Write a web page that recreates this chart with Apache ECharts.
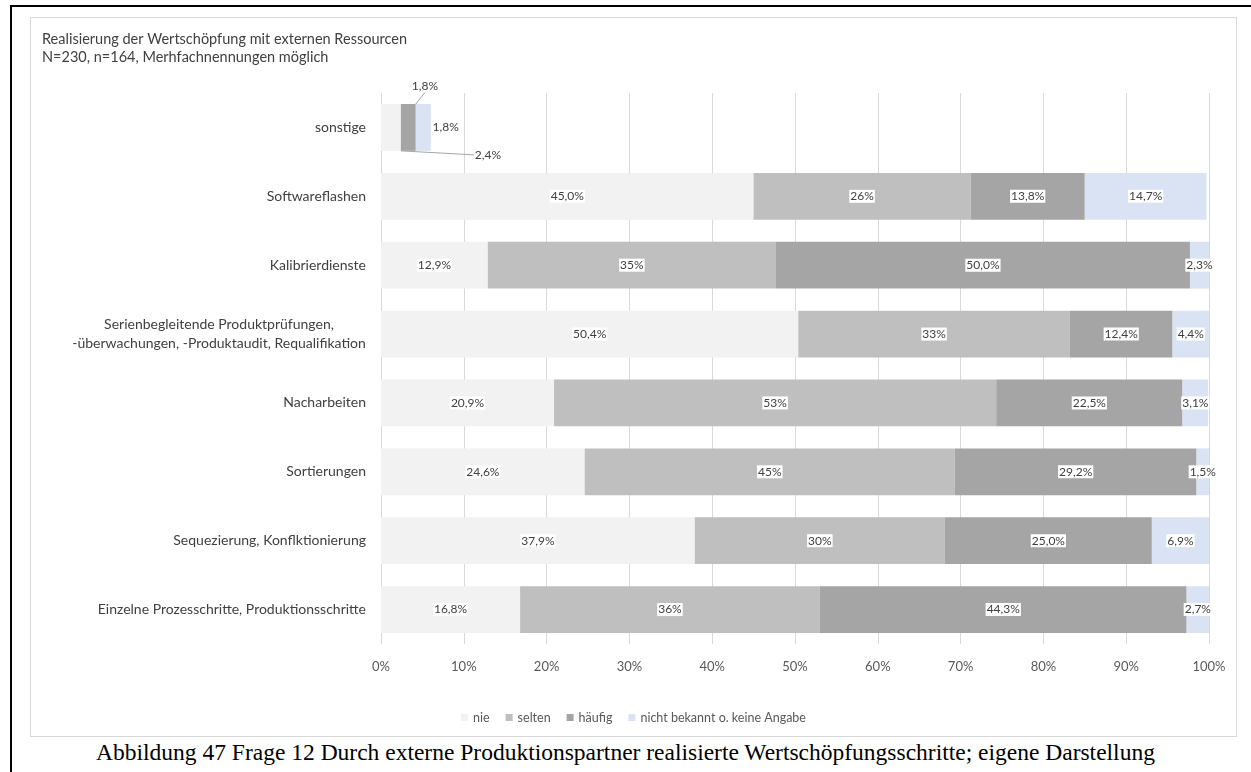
<!DOCTYPE html>
<html>
<head>
<meta charset="utf-8">
<script src="https://cdn.jsdelivr.net/npm/echarts@6/dist/echarts.min.js"></script>
<style>
  html, body { margin:0; padding:0; background:#fff; width:1251px; height:772px; overflow:hidden; }
  #outer { position:absolute; left:10px; top:5px; width:1300px; height:820px; border-left:2px solid #000; border-top:2px solid #000; box-sizing:border-box; }
  #chart { position:absolute; left:30px; top:17px; width:1207px; height:720px; border:1px solid #d9d9d9; box-sizing:border-box; background:#fff; }
  #caption { position:absolute; left:0; width:1251px; top:738px; line-height:28px; text-align:center; font-family:"Liberation Serif","Times New Roman",serif; font-size:23.5px; color:#000; white-space:nowrap; }
</style>
</head>
<body>
<div id="outer"></div>
<div id="chart"></div>
<div id="caption">Abbildung 47 Frage 12 Durch externe Produktionspartner realisierte Wertschöpfungsschritte; eigene Darstellung</div>
<script>
const titleLines = ['Realisierung der Wertschöpfung mit externen Ressourcen', 'N=230, n=164, Merhfachnennungen möglich'];
const categories = [
  'sonstige',
  'Softwareflashen',
  'Kalibrierdienste',
  'Serienbegleitende Produktprüfungen,\n-überwachungen, -Produktaudit, Requalifikation',
  'Nacharbeiten',
  'Sortierungen',
  'Sequezierung, Konflktionierung',
  'Einzelne Prozesschritte, Produktionsschritte'
];
const seriesNames = ['nie', 'selten', 'häufig', 'nicht bekannt o. keine Angabe'];
const nie       = [2.4, 45.0, 12.9, 50.4, 20.9, 24.6, 37.9, 16.8];
const selten    = [0,   26.2, 34.8, 32.8, 53.4, 44.7, 30.2, 36.2];
const haeufig   = [1.8, 13.8, 50.0, 12.4, 22.5, 29.2, 25.0, 44.3];
const unbekannt = [1.8, 14.7, 2.3,  4.4,  3.1,  1.5,  6.9,  2.7];
const xTicks = [0, 10, 20, 30, 40, 50, 60, 70, 80, 90, 100];

const colors = ['#f2f2f2', '#bfbfbf', '#a5a5a5', '#dae3f3'];
const FONT = 'Lato, "Open Sans", sans-serif';
const CAT_SIZE = 14;

// measure text width for centering multi-line category labels
const cvs = document.createElement('canvas').getContext('2d');
cvs.font = CAT_SIZE + 'px Lato';
function catFormatter(v) {
  if (v.indexOf('\n') < 0) return v;
  return v.split('\n').map(p => '{c|' + p + '}').join('\n');
}
function maxLineWidth() {
  let m = 0;
  categories.forEach(c => { if (c.indexOf('\n') >= 0) c.split('\n').forEach(p => { m = Math.max(m, cvs.measureText(p).width); }); });
  return Math.ceil(m);
}

const fmt1 = p => p.value.toFixed(1).replace('.', ',') + '%';
const fmt0 = p => Math.round(p.value) + '%';

const labelBase = {
  show: true, position: 'inside', fontFamily: FONT, fontSize: 12, color: '#404040',
  backgroundColor: '#ffffff', padding: [1, 1, 0, 1]
};

function makeSeries(idx, arr, formatter) {
  return {
    name: seriesNames[idx], type: 'bar', stack: 'total', barCategoryGap: '32%',
    itemStyle: { color: colors[idx] },
    label: Object.assign({}, labelBase, { formatter: formatter }),
    emphasis: { disabled: true },
    data: arr.map(v => v === 0 ? { value: v, label: { show: false } } : v)
  };
}

const sNie = makeSeries(0, nie, fmt1);
const sSel = makeSeries(1, selten, fmt0);
const sHae = makeSeries(2, haeufig, fmt1);
const sUnb = makeSeries(3, unbekannt, fmt1);

// callouts for the tiny first row
sNie.labelLine = { show: true, lineStyle: { color: '#a6a6a6', width: 1 } };
sNie.labelLayout = function (p) {
  if (p.dataIndex !== 0) return {};
  return { x: p.rect.x + 107, y: p.rect.y + p.rect.height + 4, align: 'center', verticalAlign: 'middle' };
};
sHae.labelLine = { show: true, lineStyle: { color: '#a6a6a6', width: 1 } };
sHae.labelLayout = function (p) {
  if (p.dataIndex !== 0) return {};
  return { x: p.rect.x + 24, y: p.rect.y - 18, align: 'center', verticalAlign: 'middle' };
};
sUnb.labelLayout = function (p) {
  if (p.dataIndex !== 0) return {};
  return { x: p.rect.x + p.rect.width + 15, y: p.rect.y + p.rect.height / 2, align: 'center', verticalAlign: 'middle' };
};
[sNie, sHae, sUnb].forEach(s => {
  s.data = s.data.map((d, i) => {
    if (i !== 0) return d;
    return { value: typeof d === 'object' ? d.value : d, label: { backgroundColor: 'transparent' } };
  });
});

const chart = echarts.init(document.getElementById('chart'), null, { renderer: 'canvas' });
const W = maxLineWidth();
chart.setOption({
  animation: false,
  backgroundColor: '#fff',
  textStyle: { fontFamily: FONT },
  title: {
    text: titleLines.join('\n'), left: 6, top: 7,
    textStyle: { fontFamily: FONT, fontSize: 14.5, fontWeight: 'normal', color: '#404040', lineHeight: 18 }
  },
  legend: {
    data: seriesNames, left: 'center', top: 688, itemWidth: 7, itemHeight: 7, itemGap: 16,
    icon: 'rect', textStyle: { fontFamily: FONT, fontSize: 12.5, color: '#595959' }
  },
  grid: { left: 350, right: 27, top: 75, bottom: 92, containLabel: false },
  xAxis: {
    type: 'value', min: xTicks[0], max: xTicks[xTicks.length - 1], interval: xTicks[1] - xTicks[0],
    axisLine: { show: false }, axisTick: { show: false },
    axisLabel: { formatter: v => v + '%', fontFamily: FONT, fontSize: 13, color: '#595959', margin: 16 },
    splitLine: { show: true, lineStyle: { color: '#d9d9d9', width: 1 } }
  },
  yAxis: {
    type: 'category', data: categories, inverse: true,
    axisLine: { show: false }, axisTick: { show: false },
    axisLabel: {
      fontFamily: FONT, fontSize: CAT_SIZE, color: '#404040', margin: 15, align: 'right', lineHeight: 19,
      formatter: catFormatter,
      rich: { c: { width: W, align: 'center', fontFamily: FONT, fontSize: CAT_SIZE, color: '#404040', lineHeight: 19 } }
    }
  },
  series: [sNie, sSel, sHae, sUnb]
});
</script>
</body>
</html>
